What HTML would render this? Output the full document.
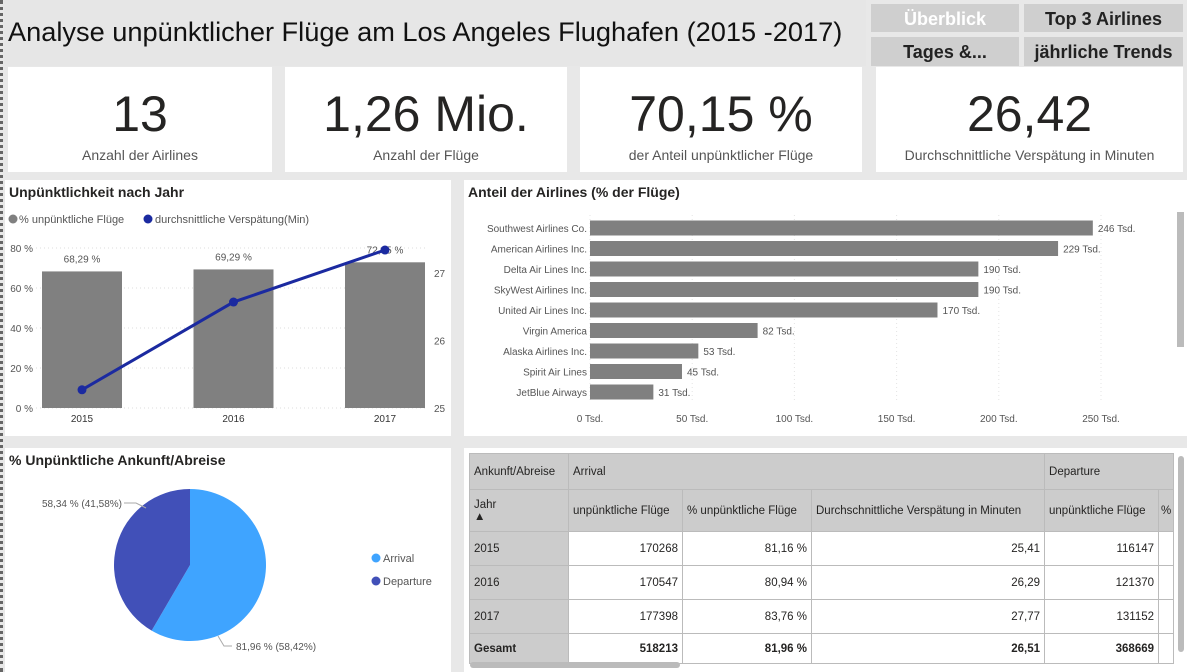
<!DOCTYPE html>
<html><head><meta charset="utf-8"><style>
body{margin:0;width:1187px;height:672px;background:#e8e8e8;font-family:"Liberation Sans",sans-serif;position:relative;overflow:hidden;color:#252423}
.abs{position:absolute}
.panel{position:absolute;background:#fff}
.btn{position:absolute;background:#cfcfcf;font-weight:bold;font-size:18px;text-align:center;line-height:30px;color:#222}
.kpi .v{position:absolute;left:0;right:0;top:18px;text-align:center;font-size:50px;color:#252423}
.kpi .l{position:absolute;left:0;right:0;top:80px;text-align:center;font-size:14px;color:#555}
.ttl{position:absolute;left:4px;top:4px;font-size:14px;font-weight:bold;color:#252423}
table{border-collapse:collapse;font-size:11.5px;color:#252423;table-layout:fixed}
td{border:1px solid #bbb;padding:0 4px;white-space:nowrap;overflow:hidden}
#svg{z-index:5;pointer-events:none}
</style></head><body>
<div class="abs" style="left:0;top:0;width:3px;height:672px;border-left:3px dotted #666;box-sizing:border-box"></div>
<div class="abs" style="left:4px;top:0;width:862px;height:66px;background:#e6e6e6;font-size:27.2px;line-height:64px;padding-left:4px;color:#111;box-sizing:border-box;white-space:nowrap">Analyse unpünktlicher Flüge am Los Angeles Flughafen (2015 -2017)</div>
<div class="btn" style="left:871px;top:4px;width:148px;height:28px;color:#fff">Überblick</div>
<div class="btn" style="left:1024px;top:4px;width:159px;height:28px">Top 3 Airlines</div>
<div class="btn" style="left:871px;top:37px;width:148px;height:29px">Tages &amp;...</div>
<div class="btn" style="left:1024px;top:37px;width:159px;height:29px">jährliche Trends</div>

<div class="panel kpi" style="left:8px;top:67px;width:264px;height:105px"><div class="v">13</div><div class="l">Anzahl der Airlines</div></div>
<div class="panel kpi" style="left:285px;top:67px;width:282px;height:105px"><div class="v">1,26 Mio.</div><div class="l">Anzahl der Flüge</div></div>
<div class="panel kpi" style="left:580px;top:67px;width:282px;height:105px"><div class="v">70,15 %</div><div class="l">der Anteil unpünktlicher Flüge</div></div>
<div class="panel kpi" style="left:876px;top:67px;width:307px;height:105px"><div class="v">26,42</div><div class="l">Durchschnittliche Verspätung in Minuten</div></div>

<div class="panel" style="left:5px;top:180px;width:446px;height:256px">
<div class="ttl">Unpünktlichkeit nach Jahr</div>
</div>

<div class="panel" style="left:464px;top:180px;width:723px;height:256px">
<div class="ttl">Anteil der Airlines (% der Flüge)</div>
<div class="abs" style="left:713px;top:32px;width:7px;height:135px;background:#bbb"></div>
</div>

<div class="panel" style="left:5px;top:448px;width:446px;height:224px">
<div class="ttl">% Unpünktliche Ankunft/Abreise</div>
</div>

<div class="panel" style="left:464px;top:448px;width:723px;height:224px;overflow:hidden">
<table style="position:absolute;left:5px;top:5px;width:704px">
<colgroup><col style="width:99px"><col style="width:114px"><col style="width:129px"><col style="width:233px"><col style="width:114px"><col style="width:15px"></colgroup>
<tr style="height:36px;background:#ccc"><td>Ankunft/Abreise</td><td colspan="3">Arrival</td><td colspan="2">Departure</td></tr>
<tr style="height:42px;background:#ccc"><td>Jahr<br>▲</td><td>unpünktliche Flüge</td><td>% unpünktliche Flüge</td><td>Durchschnittliche Verspätung in Minuten</td><td>unpünktliche Flüge</td><td style="padding:0 2px">%</td></tr>
<tr style="height:34px"><td style="background:#ccc">2015</td><td align="right">170268</td><td align="right">81,16 %</td><td align="right">25,41</td><td align="right">116147</td><td></td></tr>
<tr style="height:34px"><td style="background:#ccc">2016</td><td align="right">170547</td><td align="right">80,94 %</td><td align="right">26,29</td><td align="right">121370</td><td></td></tr>
<tr style="height:34px"><td style="background:#ccc">2017</td><td align="right">177398</td><td align="right">83,76 %</td><td align="right">27,77</td><td align="right">131152</td><td></td></tr>
<tr style="height:30px;font-weight:bold"><td style="background:#ccc">Gesamt</td><td align="right">518213</td><td align="right">81,96 %</td><td align="right">26,51</td><td align="right">368669</td><td></td></tr>
</table>
<div class="abs" style="left:6px;top:214px;width:210px;height:6px;background:#bbb;border-radius:3px"></div>
<div class="abs" style="left:714px;top:8px;width:6px;height:196px;background:#bbb;border-radius:3px"></div>
</div>
<svg class="abs" style="left:0;top:0" width="1187" height="672" id="svg"></svg>

<script>
const years=["2015","2016","2017"];
const pctDelayed=[68.29,69.29,72.85];
const avgDelay=[25.27,26.57,27.34];
const pctTicks=[0,20,40,60,80];
const minTicks=[25,26,27];
const airlines=["Southwest Airlines Co.","American Airlines Inc.","Delta Air Lines Inc.","SkyWest Airlines Inc.","United Air Lines Inc.","Virgin America","Alaska Airlines Inc.","Spirit Air Lines","JetBlue Airways"];
const flights=[246,229,190,190,170,82,53,45,31];
const flightTicks=[0,50,100,150,200,250];
const pieLabels=["Arrival","Departure"];
const pieShares=[58.42,41.58];

const NS="http://www.w3.org/2000/svg",svg=document.getElementById('svg');
function mk(t,a,txt){const e=document.createElementNS(NS,t);for(const k in a)e.setAttribute(k,a[k]);if(txt!=null)e.textContent=txt;svg.appendChild(e);return e;}
const fmt=v=>v.toFixed(2).replace('.',',');
const yP=v=>408-v*2, xC=i=>82+i*151.5, yM=v=>408-(v-25)*67.5;
let e=mk('circle',{cx:13,cy:219,r:4.5,fill:'#808080'});
e=mk('text',{x:19,y:223,'font-size':11,fill:'#555'},'% unpünktliche Flüge');
e=mk('circle',{cx:148,cy:219,r:4.5,fill:'#1b2aa0'});
e=mk('text',{x:155,y:223,'font-size':11,fill:'#555'},'durchsnittliche Verspätung(Min)');
pctTicks.forEach(t=>{e=mk('line',{x1:36,x2:425,y1:yP(t),y2:yP(t),stroke:'#ddd','stroke-dasharray':'1,3'});
e=mk('text',{x:33,y:yP(t)+4,'font-size':10,fill:'#555','text-anchor':'end'},t+' %');});
minTicks.forEach(t=>{e=mk('text',{x:434,y:yM(t)+4,'font-size':10,fill:'#555'},t);});
years.forEach((y,i)=>{e=mk('rect',{x:xC(i)-40,y:yP(pctDelayed[i]),width:80,height:pctDelayed[i]*2,fill:'#808080'});
e=mk('text',{x:xC(i),y:yP(pctDelayed[i])-9,'font-size':10,fill:'#555','text-anchor':'middle'},fmt(pctDelayed[i])+' %');
e=mk('text',{x:xC(i),y:422,'font-size':10,fill:'#333','text-anchor':'middle'},y);});
e=mk('polyline',{points:avgDelay.map((v,i)=>xC(i)+','+yM(v)).join(' '),fill:'none',stroke:'#1b2aa0','stroke-width':3});
avgDelay.forEach((v,i)=>{e=mk('circle',{cx:xC(i),cy:yM(v),r:4.5,fill:'#1b2aa0'});});
const xA=v=>590+v*2.044, yA=i=>228+i*20.5;
flightTicks.forEach(t=>{e=mk('line',{x1:xA(t),x2:xA(t),y1:215,y2:402,stroke:'#e4e4e4','stroke-dasharray':'1,3'});
e=mk('text',{x:xA(t),y:422,'font-size':10,fill:'#555','text-anchor':'middle'},t+' Tsd.');});
airlines.forEach((a,i)=>{e=mk('text',{x:587,y:yA(i)+4,'font-size':10,fill:'#555','text-anchor':'end'},a);
e=mk('rect',{x:590,y:yA(i)-7.5,width:xA(flights[i])-590,height:15,fill:'#808080'});
e=mk('text',{x:xA(flights[i])+5,y:yA(i)+4,'font-size':10,fill:'#555'},flights[i]+' Tsd.');});
const cx=190,cy=565,r=76,cols=['#3fa4ff','#4150b8'];let a0=0;const tot=pieShares.reduce((s,v)=>s+v,0);
pieShares.forEach((v,i)=>{const a1=a0+v/tot*2*Math.PI;const p=a=>[cx+r*Math.sin(a),cy-r*Math.cos(a)];const [x0,y0]=p(a0),[x1,y1]=p(a1);
e=mk('path',{d:`M${cx},${cy}L${x0},${y0}A${r},${r} 0 ${a1-a0>Math.PI?1:0} 1 ${x1},${y1}Z`,fill:cols[i]});a0=a1;
e=mk('circle',{cx:376,cy:558+i*23,r:4.5,fill:cols[i]});
e=mk('text',{x:383,y:562+i*23,'font-size':11,fill:'#555'},pieLabels[i]);});
e=mk('polyline',{points:'124,503 136,503 146,508',fill:'none',stroke:'#aaa'});
e=mk('text',{x:122,y:507,'font-size':10,fill:'#555','text-anchor':'end'},'58,34 % (41,58%)');
e=mk('polyline',{points:'218,636 224,646 232,646',fill:'none',stroke:'#aaa'});
e=mk('text',{x:236,y:650,'font-size':10,fill:'#555'},'81,96 % (58,42%)');
</script>
</body></html>
